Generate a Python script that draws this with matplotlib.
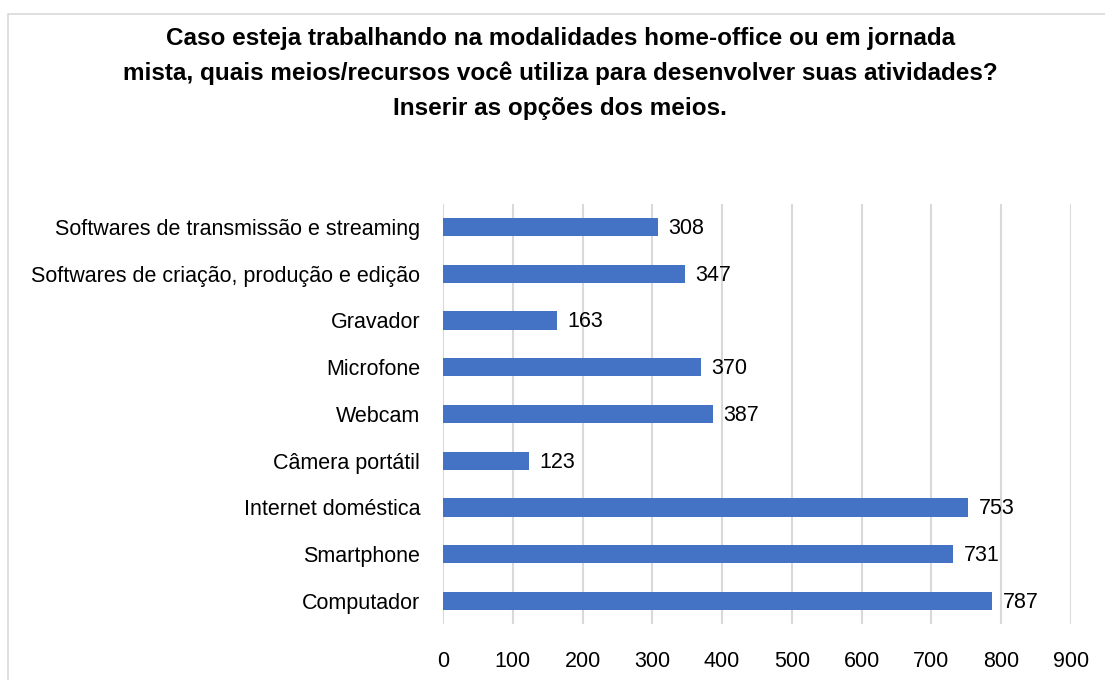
import matplotlib.pyplot as plt
from matplotlib.patches import Rectangle

categories = [
    "Computador",
    "Smartphone",
    "Internet doméstica",
    "Câmera portátil",
    "Webcam",
    "Microfone",
    "Gravador",
    "Softwares de criação, produção e edição",
    "Softwares de transmissão e streaming",
]
values = [787, 731, 753, 123, 387, 370, 163, 347, 308]
xticks = [0, 100, 200, 300, 400, 500, 600, 700, 800, 900]

title = ("Caso esteja trabalhando na modalidades home-office ou em jornada\n"
         "mista, quais meios/recursos você utiliza para desenvolver suas atividades?\n"
         "Inserir as opções dos meios.")

plt.rcParams["font.family"] = ["Liberation Sans", "DejaVu Sans"]

fig = plt.figure(figsize=(11.05, 6.8), dpi=100)
ax = fig.add_axes([0.4009, 0.0818, 0.5683, 0.6188])

bar_color = "#4472C4"
ax.barh(range(len(categories)), values, height=0.39, color=bar_color, zorder=3)
for i, v in enumerate(values):
    ax.text(v + 15, i - 0.03, str(v), va="center", ha="left", fontsize=15.5, color="#000000")

ax.set_xlim(0, 900)
ax.set_ylim(-0.5, len(categories) - 0.5)
ax.set_xticks(xticks)
ax.set_yticks(range(len(categories)))
ax.set_yticklabels(categories)
ax.tick_params(axis="both", length=0, labelsize=15.5, colors="#000000")
ax.tick_params(axis="y", pad=16.5)
ax.tick_params(axis="x", pad=19)
ax.grid(axis="x", color="#D9D9D9", linewidth=1.5, zorder=0)
for s in ax.spines.values():
    s.set_visible(False)

fig.text(0.507, 1 - 27 / 680, title, ha="center", va="top", fontsize=17.5,
         fontweight="bold", linespacing=1.64)

# chart border (only the top and left edges fall inside the image)
fig.patches.append(Rectangle((8 / 1105, -0.1), 1.2, 1.1 - 14 / 680,
                             transform=fig.transFigure, fill=False,
                             edgecolor="#D9D9D9", linewidth=1.2))

fig.savefig("out.png", dpi=100)
